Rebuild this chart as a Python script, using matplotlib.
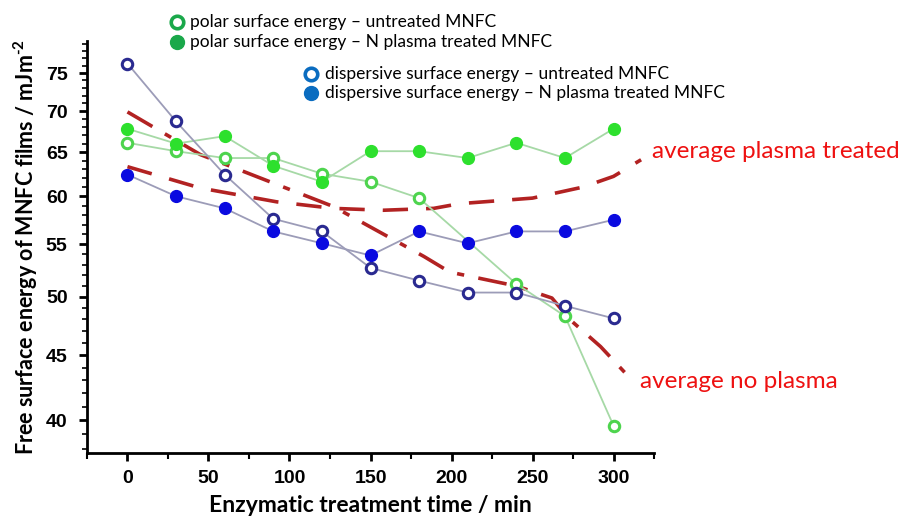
import numpy as np
import matplotlib.pyplot as plt
from matplotlib.ticker import FixedLocator, NullFormatter, FixedFormatter

plt.rcParams['font.family'] = ['Liberation Sans', 'DejaVu Sans']
plt.rcParams['font.weight'] = 'bold'
plt.rcParams['mathtext.fontset'] = 'custom'
plt.rcParams['mathtext.rm'] = 'Lato:bold'
plt.rcParams['mathtext.bf'] = 'Lato:bold'

# enzymatic treatment time / min
time = [0, 30, 60, 90, 120, 150, 180, 210, 240, 270, 300]
time_polar_untr = [0, 30, 60, 90, 120, 150, 180, 240, 270, 300]

polar_untreated = [66.1, 65.1, 64.3, 64.3, 62.5, 61.6, 59.8, 51.2, 48.3, 39.6]
polar_plasma = [67.8, 66.0, 66.9, 63.4, 61.6, 65.1, 65.1, 64.3, 66.1, 64.3, 67.8]
disp_untreated = [76.3, 68.7, 62.4, 57.6, 56.3, 52.7, 51.5, 50.4, 50.4, 49.2, 48.1]
disp_plasma = [62.4, 60.0, 58.7, 56.3, 55.1, 53.9, 56.3, 55.1, 56.3, 56.3, 57.5]

# hand drawn average curves
avg_plasma_t = [0, 45, 92, 127, 158, 189, 205, 250, 281, 300, 317]
avg_plasma_v = [63.3, 60.9, 59.4, 58.7, 58.5, 58.7, 59.2, 59.8, 61.0, 62.2, 64.1]
avg_none_t = [0, 45, 127, 183, 199, 240, 262, 273, 292, 307]
avg_none_v = [69.9, 64.7, 58.9, 53.8, 52.3, 51.0, 49.9, 48.0, 45.7, 43.6]

yticks = [40, 45, 50, 55, 60, 65, 70, 75]

fig = plt.figure(figsize=(9.03, 5.17), dpi=100)
ax = fig.add_axes([0.0963, 0.124, 0.628, 0.797])

ax.plot(avg_plasma_t, avg_plasma_v, color='#b22222', lw=2.6, dashes=(7, 5), zorder=2)
ax.plot(avg_none_t, avg_none_v, color='#b22222', lw=2.6, dashes=(8, 4, 2, 4), zorder=2)

green_line = '#a6d9a6'
blue_line = '#9c9cb8'
ax.plot(time_polar_untr, polar_untreated, '-', color=green_line, lw=1.3, zorder=3)
ax.plot(time, polar_plasma, '-', color=green_line, lw=1.3, zorder=3)
ax.plot(time, disp_untreated, '-', color=blue_line, lw=1.3, zorder=3)
ax.plot(time, disp_plasma, '-', color=blue_line, lw=1.3, zorder=3)

ax.plot(time_polar_untr, polar_untreated, 'o', ms=7.5, mfc='white', mec='#4ed44e', mew=2.2, zorder=4)
ax.plot(time, polar_plasma, 'o', ms=8.5, color='#2de02d', mec='#2de02d', zorder=4)
ax.plot(time, disp_untreated, 'o', ms=7.5, mfc='white', mec='#2a2a90', mew=2.2, zorder=4)
ax.plot(time, disp_plasma, 'o', ms=8.5, color='#0a0ae0', mec='#0a0ae0', zorder=4)

ax.set_yscale('log')
ax.set_ylim(37.7, 79.5)
ax.set_xlim(-25, 325)
ax.yaxis.set_major_locator(FixedLocator(yticks))
ax.yaxis.set_major_formatter(FixedFormatter([str(v) for v in yticks]))
ax.yaxis.set_minor_locator(FixedLocator(list(range(38, 80))))
ax.yaxis.set_minor_formatter(NullFormatter())
ax.set_xticks([0, 50, 100, 150, 200, 250, 300])
ax.set_xticks([-25, 25, 75, 125, 175, 225, 275, 325], minor=True)

for s in ['top', 'right']:
    ax.spines[s].set_visible(False)
for s in ['left', 'bottom']:
    ax.spines[s].set_linewidth(2)
ax.tick_params(axis='both', which='major', direction='out', length=6, width=2,
               labelsize=14)
ax.tick_params(axis='y', which='major', pad=8)
ax.tick_params(axis='x', which='major', pad=6)
ax.tick_params(axis='y', which='minor', direction='out', length=3.5, width=1.2)
ax.tick_params(axis='x', which='minor', direction='out', length=4, width=1.5)

ax.set_xlabel('Enzymatic treatment time / min', fontsize=16.5, fontweight='bold',
              family='Lato', labelpad=6)
ax.set_ylabel('Free surface energy of MNFC films / mJm$^{\\text{-2}}$', fontsize=15.5,
              fontweight='bold', family='Lato', labelpad=4)

# legend entries drawn as text
leg = [(177, 22, 190, 'polar surface energy \u2013 untreated MNFC', 'open', '#1aa84a'),
       (177, 42, 190, 'polar surface energy \u2013 N plasma treated MNFC', 'fill', '#1aa84a'),
       (311, 74, 325, 'dispersive surface energy \u2013 untreated MNFC', 'open', '#0a6cc0'),
       (311, 93, 325, 'dispersive surface energy \u2013 N plasma treated MNFC', 'fill', '#0a6cc0')]
W, H = 903.0, 517.0
for mx, my, tx, txt, kind, col in leg:
    if kind == 'open':
        fig.lines.append(plt.Line2D([mx / W], [1 - my / H], marker='o', ms=9, mfc='white',
                                    mec=col, mew=2.6, transform=fig.transFigure))
    else:
        fig.lines.append(plt.Line2D([mx / W], [1 - my / H], marker='o', ms=10, color=col,
                                    transform=fig.transFigure))
    fig.text(tx / W, 1 - my / H, txt, fontsize=12.5, family='Lato', fontweight='normal',
             va='center', ha='left')

fig.text(652 / W, 1 - 152 / H, 'average plasma treated', color='#ee1111', fontsize=17.5,
         family='Lato', fontweight='normal', va='center', ha='left')
fig.text(640 / W, 1 - 381 / H, 'average no plasma', color='#ee1111', fontsize=17.5,
         family='Lato', fontweight='normal', va='center', ha='left')

fig.savefig('out.png', dpi=100)
